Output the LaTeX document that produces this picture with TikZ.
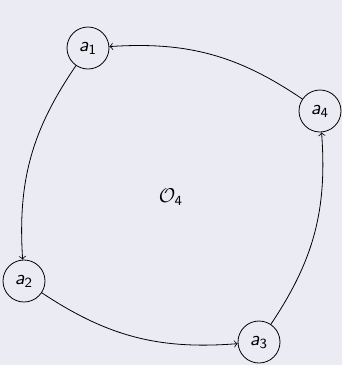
\documentclass[tikz,border=0pt]{standalone}
\usetikzlibrary{arrows}
\definecolor{bgcol}{RGB}{235,235,244}
\newcommand{\va}[1]{$\textsf{\slshape a}_{\mathsf{#1}}$}
\begin{document}
\begin{tikzpicture}[x=0.5pt,y=-0.5pt,
  vert/.style={circle,draw,inner sep=0pt,minimum size=21pt,fill=bgcol},
  conn/.style={->,bend right=19}]
\fill[bgcol] (0,0) rectangle (342,365);
\useasboundingbox (0,0) rectangle (342,365);
\node[vert] (a1) at (88,48) {\va{1}};
\node[vert] (a2) at (24,281) {\va{2}};
\node[vert] (a3) at (259,342) {\va{3}};
\node[vert] (a4) at (320,111) {\va{4}};
\node (o) at (171,197) {$\mathcal{O}_{\mathsf{4}}$};
\draw[conn] (a4) to (a1);
\draw[conn] (a1) to (a2);
\draw[conn] (a2) to (a3);
\draw[conn] (a3) to (a4);
\end{tikzpicture}
\end{document}
